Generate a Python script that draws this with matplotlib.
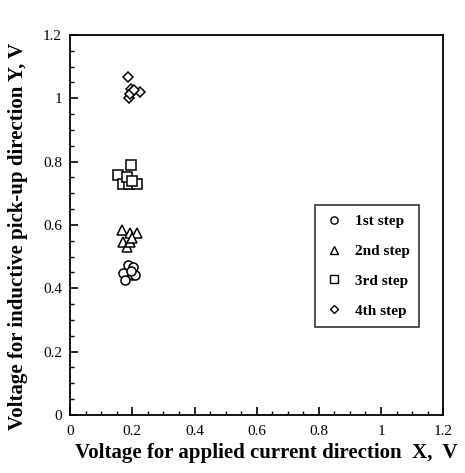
import matplotlib
matplotlib.use("Agg")
import matplotlib.pyplot as plt
from matplotlib.ticker import MultipleLocator

plt.rcParams['font.family'] = ['Liberation Serif', 'DejaVu Serif']

# Data
step1_x = [0.187, 0.203, 0.170, 0.200, 0.177, 0.209, 0.195]
step1_y = [0.474, 0.467, 0.448, 0.442, 0.426, 0.442, 0.455]
step2_x = [0.167, 0.193, 0.215, 0.170, 0.183, 0.193, 0.200]
step2_y = [0.584, 0.575, 0.575, 0.547, 0.530, 0.547, 0.560]
step3_x = [0.155, 0.196, 0.170, 0.190, 0.215, 0.183, 0.200]
step3_y = [0.758, 0.790, 0.730, 0.730, 0.730, 0.750, 0.740]
step4_x = [0.187, 0.195, 0.225, 0.190, 0.200, 0.193, 0.205]
step4_y = [1.067, 1.030, 1.020, 1.000, 1.020, 1.015, 1.025]

labels = ['1st step', '2nd step', '3rd step', '4th step']
x_ticks = [0, 0.2, 0.4, 0.6, 0.8, 1, 1.2]
x_tick_labels = ['0', '0.2', '0.4', '0.6', '0.8', '1', '1.2']
y_ticks = [0, 0.2, 0.4, 0.6, 0.8, 1, 1.2]
y_tick_labels = ['0', '0.2', '0.4', '0.6', '0.8', '1', '1.2']

fig = plt.figure(figsize=(4.65, 4.73), dpi=100)
ax = fig.add_axes([0.151, 0.123, 0.802, 0.803])

series = [(step1_x, step1_y, 'o'), (step2_x, step2_y, '^'),
          (step3_x, step3_y, 's'), (step4_x, step4_y, 'D')]
sizes = {'o': 6.5, '^': 6.5, 's': 6.5, 'D': 5}
handles = []
for (xs, ys, m), lab in zip(series, labels):
    ax.plot(xs, ys, linestyle='none', marker=m, markersize=sizes[m],
            markerfacecolor='white', markeredgecolor='black', markeredgewidth=1.1)
    h, = ax.plot([], [], linestyle='none', marker=m, markersize=sizes[m] * 0.8,
                 markerfacecolor='white', markeredgecolor='black',
                 markeredgewidth=1.0, label=lab)
    handles.append(h)

ax.set_xlim(0, 1.2)
ax.set_ylim(0, 1.2)
ax.set_xticks(x_ticks)
ax.set_xticklabels(x_tick_labels)
ax.set_yticks(y_ticks)
ax.set_yticklabels(y_tick_labels)
ax.xaxis.set_minor_locator(MultipleLocator(0.05))
ax.yaxis.set_minor_locator(MultipleLocator(0.05))
ax.tick_params(which='both', direction='in', top=False, right=False, labelsize=11)
ax.tick_params(axis='y', pad=6)
ax.tick_params(axis='x', pad=7)
ax.tick_params(which='major', length=6, width=1.2)
ax.tick_params(which='minor', length=3, width=1.0)
for s in ax.spines.values():
    s.set_linewidth(1.3)

ax.set_xlabel('Voltage for applied current direction  X,  V', fontsize=15,
              fontweight='bold')
ax.set_ylabel('Voltage for inductive pick-up direction Y, V', fontsize=15,
              fontweight='bold')
ax.xaxis.set_label_coords(0.525, -0.075)
ax.yaxis.set_label_coords(-0.112, 0.47)

leg = ax.legend(handles=handles, loc='lower left', bbox_to_anchor=(0.657, 0.232),
                borderaxespad=0, frameon=True, fancybox=False, edgecolor='black',
                prop={'weight': 'bold', 'size': 11}, labelspacing=1.05,
                handlelength=1.2, handletextpad=0.8, borderpad=0.6)
leg.get_frame().set_linewidth(1.2)

fig.savefig('out.png', dpi=100)
